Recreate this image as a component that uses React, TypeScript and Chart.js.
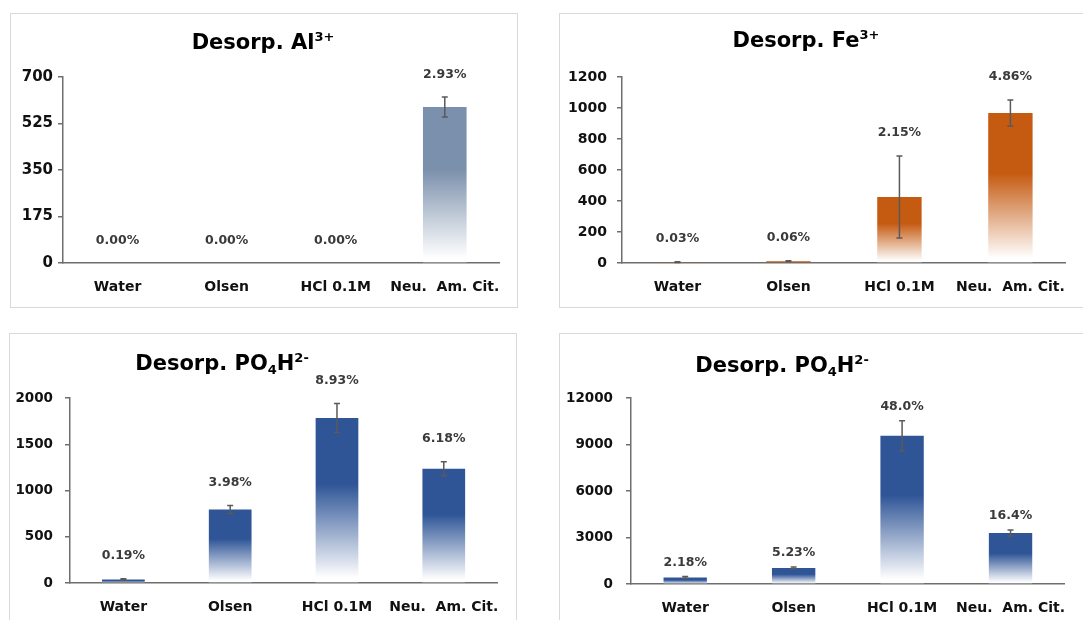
import React, { useEffect, useRef } from "react";
import { Chart, registerables } from "chart.js";

Chart.register(...registerables);

// ---------- DATA ----------
const categories = ["Water", "Olsen", "HCl 0.1M", "Neu.  Am. Cit."];

const alValues = [0, 0, 0, 587];
const alErrors = [0, 0, 0, 38];
const alPercents = ["0.00%", "0.00%", "0.00%", "2.93%"];
const alTicks = [0, 175, 350, 525, 700];

const feValues = [6, 12, 426, 968];
const feErrors = [2, 3, 265, 84];
const fePercents = ["0.03%", "0.06%", "2.15%", "4.86%"];
const feTicks = [0, 200, 400, 600, 800, 1000, 1200];

const po4aValues = [38, 795, 1784, 1235];
const po4aErrors = [8, 43, 157, 76];
const po4aPercents = ["0.19%", "3.98%", "8.93%", "6.18%"];
const po4aTicks = [0, 500, 1000, 1500, 2000];

const po4bValues = [420, 1040, 9560, 3290];
const po4bErrors = [60, 50, 970, 200];
const po4bPercents = ["2.18%", "5.23%", "48.0%", "16.4%"];
const po4bTicks = [0, 3000, 6000, 9000, 12000];

type Run = { t: string; sup?: boolean; sub?: boolean };
const titleAl: Run[] = [{ t: "Desorp. Al" }, { t: "3+", sup: true }];
const titleFe: Run[] = [{ t: "Desorp. Fe" }, { t: "3+", sup: true }];
const titlePO4: Run[] = [{ t: "Desorp. PO" }, { t: "4", sub: true }, { t: "H" }, { t: "2-", sup: true }];

// ---------- STYLE / LAYOUT ----------
const FONT = "'DejaVu Sans', sans-serif";

type PanelCfg = {
  box: { x: number; y: number; w: number; h: number };
  canvas: { x: number; y: number; w: number; h: number };
  padding: { left: number; right: number; top: number; bottom: number };
  yWidth: number;
  xHeight: number;
  yTickPad: number;
  tickSize: number;
  titleX: number;
  titleBase: number;
  labelOffset: number;
  color: string;
  values: number[];
  errors: number[];
  percents: string[];
  ticks: number[];
  title: Run[];
};

const panels: PanelCfg[] = [
  {
    box: { x: 10, y: 13, w: 508, h: 295 },
    canvas: { x: 10, y: 13, w: 507, h: 294 },
    padding: { left: 0, right: 14, top: 64, bottom: 4 },
    yWidth: 53, xHeight: 40, yTickPad: 5, tickSize: 15,
    titleX: 253, titleBase: 36, labelOffset: 22,
    color: "#7b90ac",
    values: alValues, errors: alErrors, percents: alPercents, ticks: alTicks, title: titleAl,
  },
  {
    box: { x: 559, y: 13, w: 540, h: 295 },
    canvas: { x: 559, y: 13, w: 524, h: 294 },
    padding: { left: 0, right: 17, top: 64, bottom: 4 },
    yWidth: 63, xHeight: 40, yTickPad: 10, tickSize: 14,
    titleX: 247, titleBase: 34, labelOffset: 23,
    color: "#c55a11",
    values: feValues, errors: feErrors, percents: fePercents, ticks: feTicks, title: titleFe,
  },
  {
    box: { x: 9, y: 333, w: 508, h: 320 },
    canvas: { x: 9, y: 333, w: 507, h: 287 },
    padding: { left: 0, right: 14, top: 65, bottom: 0 },
    yWidth: 61, xHeight: 37, yTickPad: 12, tickSize: 13.5,
    titleX: 213, titleBase: 37, labelOffset: 23,
    color: "#2f5597",
    values: po4aValues, errors: po4aErrors, percents: po4aPercents, ticks: po4aTicks, title: titlePO4,
  },
  {
    box: { x: 559, y: 333, w: 540, h: 320 },
    canvas: { x: 559, y: 333, w: 524, h: 287 },
    padding: { left: 0, right: 16, top: 65, bottom: 0 },
    yWidth: 72, xHeight: 36, yTickPad: 13, tickSize: 13.5,
    titleX: 223, titleBase: 39, labelOffset: 14,
    color: "#2f5597",
    values: po4bValues, errors: po4bErrors, percents: po4bPercents, ticks: po4bTicks, title: titlePO4,
  },
];

const AXIS_COLOR = "#6e6e6e";

function Panel({ cfg }: { cfg: PanelCfg }) {
  const ref = useRef<HTMLCanvasElement | null>(null);

  useEffect(() => {
    const canvas = ref.current;
    if (!canvas) return;

    const overlay = {
      id: "overlay",
      afterDatasetsDraw(chart: any) {
        const c = chart.ctx as CanvasRenderingContext2D;
        const y = chart.scales.y;
        const meta = chart.getDatasetMeta(0);
        c.save();
        // error bars
        c.strokeStyle = "#5a5a5a";
        c.lineWidth = 1.5;
        cfg.values.forEach((v, i) => {
          const e = cfg.errors[i];
          if (!e) return;
          const x = meta.data[i].x;
          const yt = y.getPixelForValue(v + e);
          const yb = y.getPixelForValue(Math.max(0, v - e));
          c.beginPath();
          c.moveTo(x, yt);
          c.lineTo(x, yb);
          c.moveTo(x - 3, yt);
          c.lineTo(x + 3, yt);
          c.moveTo(x - 3, yb);
          c.lineTo(x + 3, yb);
          c.stroke();
        });
        // percent labels
        c.fillStyle = "#3a3a3a";
        c.font = `bold 12.5px ${FONT}`;
        c.textAlign = "center";
        c.textBaseline = "middle";
        cfg.values.forEach((v, i) => {
          const x = meta.data[i].x;
          const yy = y.getPixelForValue(v + (cfg.errors[i] || 0)) - cfg.labelOffset;
          c.fillText(cfg.percents[i], x, yy);
        });
        // title
        const fs = 21;
        const runFont = (r: Run) => `bold ${r.sup || r.sub ? Math.round(fs * 0.62) : fs}px ${FONT}`;
        let total = 0;
        cfg.title.forEach((r) => {
          c.font = runFont(r);
          total += c.measureText(r.t).width;
        });
        let x = cfg.titleX - total / 2;
        c.fillStyle = "#000";
        c.textAlign = "left";
        c.textBaseline = "alphabetic";
        cfg.title.forEach((r) => {
          c.font = runFont(r);
          let yy = cfg.titleBase;
          if (r.sup) yy -= fs * 0.4;
          if (r.sub) yy += fs * 0.2;
          c.fillText(r.t, x, yy);
          x += c.measureText(r.t).width;
        });
        c.restore();
      },
    };

    const color = cfg.color;
    const chart = new Chart(canvas, {
      type: "bar",
      data: {
        labels: categories,
        datasets: [
          {
            data: cfg.values,
            borderWidth: 0,
            barPercentage: 0.4,
            categoryPercentage: 1,
            backgroundColor: (ctx: any) => {
              const ch = ctx.chart;
              if (!ch.chartArea || ctx.type !== "data" || !ch.scales.y) return color;
              const ys = ch.scales.y;
              const top = ys.getPixelForValue(ctx.raw);
              const base = ys.getPixelForValue(0);
              if (base - top < 2) return color;
              const g = ch.ctx.createLinearGradient(0, top, 0, base);
              g.addColorStop(0, color);
              g.addColorStop(0.4, color);
              g.addColorStop(0.97, "#ffffff");
              g.addColorStop(1, "#ffffff");
              return g;
            },
          },
        ],
      },
      options: {
        responsive: false,
        animation: false,
        layout: { padding: cfg.padding },
        plugins: {
          legend: { display: false },
          title: { display: false },
          tooltip: { enabled: false },
        },
        scales: {
          x: {
            grid: { display: false, drawTicks: false },
            border: { display: true, color: AXIS_COLOR, width: 1.5 },
            ticks: {
              color: "#111",
              font: { family: FONT, weight: "bold", size: 14 },
              padding: 16,
              maxRotation: 0,
              autoSkip: false,
            },
            afterFit: (s: any) => {
              s.height = cfg.xHeight;
            },
          },
          y: {
            min: cfg.ticks[0],
            max: cfg.ticks[cfg.ticks.length - 1],
            afterBuildTicks: (s: any) => {
              s.ticks = cfg.ticks.map((v) => ({ value: v }));
            },
            grid: {
              display: true,
              drawOnChartArea: false,
              drawTicks: true,
              tickLength: 5,
              color: AXIS_COLOR,
              lineWidth: 1.5,
            },
            border: { display: true, color: AXIS_COLOR, width: 1.5 },
            ticks: {
              color: "#111",
              font: { family: FONT, weight: "bold", size: cfg.tickSize },
              padding: cfg.yTickPad,
              callback: (v: any) => String(v),
            },
            afterFit: (s: any) => {
              s.width = cfg.yWidth;
            },
          },
        },
      },
      plugins: [overlay],
    } as any);

    return () => chart.destroy();
  }, [cfg]);

  return (
    <>
      <div
        style={{
          position: "absolute",
          left: cfg.box.x,
          top: cfg.box.y,
          width: cfg.box.w,
          height: cfg.box.h,
          border: "1px solid #d9d9d9",
          boxSizing: "border-box",
        }}
      />
      <canvas
        ref={ref}
        width={cfg.canvas.w}
        height={cfg.canvas.h}
        style={{
          position: "absolute",
          left: cfg.canvas.x,
          top: cfg.canvas.y,
          width: cfg.canvas.w,
          height: cfg.canvas.h,
          display: "block",
        }}
      />
    </>
  );
}

export default function App() {
  return (
    <div
      style={{
        position: "absolute",
        left: 0,
        top: 0,
        width: 1083,
        height: 620,
        overflow: "hidden",
        background: "#ffffff",
      }}
    >
      {panels.map((p, i) => (
        <Panel key={i} cfg={p} />
      ))}
    </div>
  );
}
